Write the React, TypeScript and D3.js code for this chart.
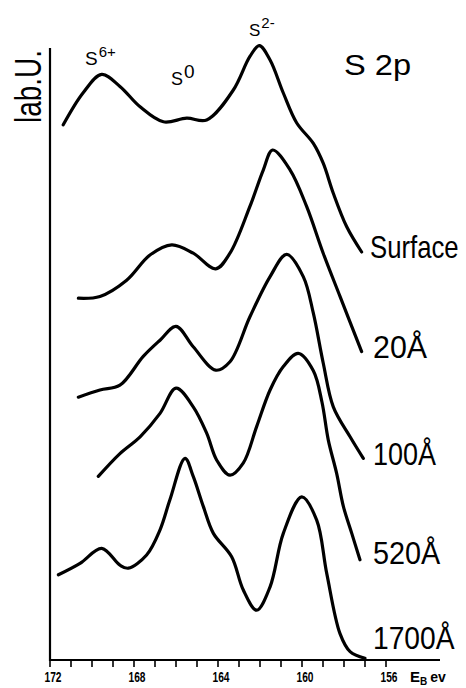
import React from "react";
import * as d3 from "d3";

// S 2p photoelectron spectra at increasing sputter depth (binding energy in eV, intensity in arbitrary units)
const surfaceE = [171.37, 170.43, 169.54, 168.67, 167.71, 166.6, 165.49, 164.54, 163.27, 162.48, 162.03, 161.52, 160.89, 160.25, 159.46, 158.99, 158.51, 157.87, 157.16];
const surfaceI = [89.2, 94.5, 97.6, 95.6, 92.2, 89.7, 90.3, 90.0, 95.0, 100.6, 102.4, 100.0, 94.5, 89.5, 86.1, 82.8, 77.8, 72.2, 68.0];

const d20E = [170.65, 169.62, 168.35, 167.24, 166.2, 165.18, 164.11, 163.43, 162.48, 161.84, 161.4, 160.57, 159.78, 158.99, 158.19, 157.16];
const d20I = [60.3, 60.6, 63.3, 67.5, 69.2, 67.8, 65.2, 67.8, 75.6, 81.7, 85.0, 81.7, 75.6, 67.8, 60.6, 51.4];

const d100E = [170.65, 169.62, 168.67, 167.56, 166.76, 166.0, 165.18, 164.11, 163.43, 162.48, 161.52, 160.73, 159.94, 159.46, 158.99, 158.51, 157.71, 157.08];
const d100I = [43.8, 45.0, 45.8, 50.6, 53.3, 55.6, 52.2, 48.3, 49.7, 57.2, 63.9, 67.6, 63.9, 57.8, 49.5, 42.2, 37.2, 33.6];

const d520E = [169.7, 168.67, 167.71, 166.76, 166.0, 165.18, 164.54, 164.06, 163.43, 162.8, 162.16, 161.52, 160.89, 160.18, 159.46, 159.05, 158.75, 158.35, 158.03, 157.63, 157.24];
const d520I = [30.6, 34.4, 37.2, 41.1, 45.3, 42.2, 37.8, 33.3, 30.8, 32.8, 38.9, 45.0, 48.9, 51.1, 48.2, 43.0, 36.7, 31.1, 25.6, 21.1, 16.7];

const d1700E = [171.6, 170.57, 169.54, 168.67, 168.27, 167.4, 166.76, 166.29, 165.57, 165.18, 164.7, 164.22, 163.35, 162.8, 162.16, 161.52, 160.89, 160.01, 159.3, 158.82, 158.19, 157.71, 157.0];
const d1700I = [14.2, 16.1, 18.6, 15.8, 15.3, 17.5, 21.7, 26.7, 33.6, 30.6, 25.6, 21.1, 17.2, 11.7, 8.3, 12.2, 21.1, 27.2, 23.3, 14.4, 4.4, 1.4, 0.3];

const seriesLabels = ["Surface", "20Å", "100Å", "520Å", "1700Å"];
// horizontal condensing of each depth label
const labelScaleX = [0.83, 0.98, 0.87, 0.93, 0.91];
const labelBaselines = [258, 358, 465, 564, 649];

const tickValues = d3.range(172, 155, -1);
const tickLabels = [172, 168, 164, 160, 156];

const FONT = "'Liberation Sans', Arial, sans-serif";

export default function App() {
  const x = d3.scaleLinear().domain([172, 156]).range([50, 386]);
  const y = d3.scaleLinear().domain([0, 110]).range([660, 0]);

  const line = d3
    .line<[number, number]>()
    .x((d) => x(d[0]))
    .y((d) => y(d[1]))
    .curve(d3.curveCatmullRom.alpha(0.5));

  const series: [number[], number[]][] = [
    [surfaceE, surfaceI],
    [d20E, d20I],
    [d100E, d100I],
    [d520E, d520I],
    [d1700E, d1700I],
  ];

  const axisY = y(0);
  const axisX = x(172);

  return (
    <svg
      width={466}
      height={688}
      style={{ position: "absolute", left: 0, top: 0, background: "#fff" }}
    >
      <rect width={466} height={688} fill="#fff" />

      {/* axes */}
      <line x1={axisX} x2={axisX} y1={48} y2={axisY + 1} stroke="#000" strokeWidth={2.2} />
      <line x1={axisX - 1} x2={440} y1={axisY} y2={axisY} stroke="#000" strokeWidth={2.2} />
      {tickValues.map((t) => (
        <line key={t} x1={x(t)} x2={x(t)} y1={axisY} y2={axisY + 7} stroke="#000" strokeWidth={1.6} />
      ))}
      {tickLabels.map((t) => (
        <text
          key={t}
          x={x(t) + 3}
          y={682}
          textAnchor="middle"
          fontFamily={FONT}
          fontWeight="bold"
          fontSize={14}
          textLength={17}
          lengthAdjust="spacingAndGlyphs"
        >
          {t}
        </text>
      ))}
      <text x={410} y={682} fontFamily={FONT} fontWeight="bold" fontSize={15}>
        E
        <tspan fontSize={10} dy={3}>B</tspan>
        <tspan fontSize={14} dy={-3} dx={3}>ev</tspan>
      </text>

      <text
        transform="translate(41,123) rotate(-90)"
        fontFamily={FONT}
        fontSize={36}
        textLength={73}
        lengthAdjust="spacingAndGlyphs"
      >
        lab.U.
      </text>

      {/* spectra */}
      {series.map(([es, is], i) => (
        <path
          key={i}
          d={line(es.map((e, k) => [e, is[k]] as [number, number])) || ""}
          fill="none"
          stroke="#000"
          strokeWidth={3.2}
          strokeLinecap="round"
          strokeLinejoin="round"
        />
      ))}

      {/* depth labels */}
      {seriesLabels.map((s, i) => (
        <text
          key={s}
          transform={`translate(${i === 0 ? 370 : 373},${labelBaselines[i]}) scale(${labelScaleX[i]},1)`}
          fontFamily={FONT}
          fontSize={31}
        >
          {s}
        </text>
      ))}

      {/* title */}
      <text x={344} y={75} fontFamily={FONT} fontSize={30} textLength={67} lengthAdjust="spacingAndGlyphs">
        S 2p
      </text>

      {/* peak assignments */}
      <text x={85} y={65} fontFamily={FONT} fontSize={19}>
        S<tspan fontSize={15} dy={-8} dx={1}>6+</tspan>
      </text>
      <text x={171} y={85} fontFamily={FONT} fontSize={18}>
        S<tspan fontSize={19} dy={-7} dx={1}>0</tspan>
      </text>
      <text x={249} y={36} fontFamily={FONT} fontSize={17}>
        S<tspan fontSize={15} dy={-8} dx={1}>2-</tspan>
      </text>
    </svg>
  );
}
